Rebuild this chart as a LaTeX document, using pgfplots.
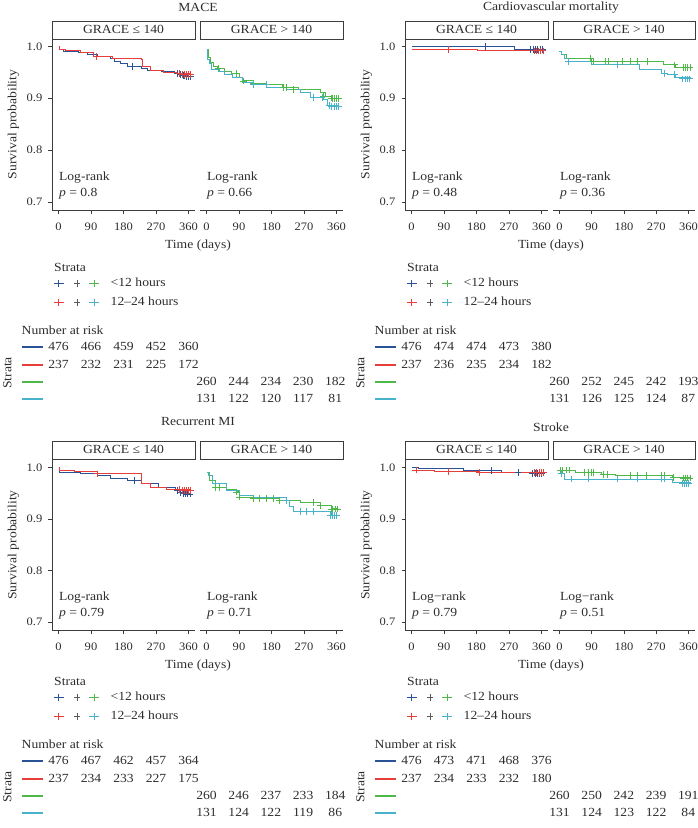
\documentclass[border=0pt]{standalone}
\usepackage{fontspec}
\setmainfont{Liberation Serif}[FakeStretch=1.1]
\usepackage{pgfplots}
\pgfplotsset{compat=1.18}
\definecolor{kmblue}{RGB}{42,82,150}
\definecolor{kmred}{RGB}{232,62,58}
\definecolor{kmgreen}{RGB}{78,184,72}
\definecolor{kmcyan}{RGB}{72,178,204}
\definecolor{txtgray}{RGB}{45,45,45}
\definecolor{axgray}{RGB}{60,60,60}
\newcommand\fs{\fontsize{12.4}{14}\selectfont}
\newcommand\fst{\fontsize{11.4}{13}\selectfont}
\pgfplotsset{
 km/.style={scale only axis, width=143pt, height=171pt, anchor=north west,
  xmin=-18, xmax=378, ymin=0.685, ymax=1.015, clip=false,
  xtick={0,90,180,270,360}, ytick={0.7,0.8,0.9,1.0},
  tick align=outside, major tick length=3.5pt,
  tick style={axgray, line width=0.7pt},
  axis line style={-, axgray, line width=0.7pt},
  axis x line*=bottom,
  /pgf/number format/assume math mode=true,
  tick label style={font=\fst, text=txtgray, inner sep=0pt, text height=0.68em, text depth=0pt},
  xticklabel style={yshift=-9.5pt},
  yticklabel style={xshift=-6pt},
  yticklabel={\pgfmathprintnumber[fixed,fixed zerofill,precision=1]{\tick}},
  every axis plot/.append style={const plot, line width=1pt},
 },
 kmL/.style={km, axis y line*=left},
 kmR/.style={km, axis y line=none, ymajorticks=false},
 cens/.style={only marks, mark=+, mark size=3.4pt, mark options={line width=0.85pt}},
}
\newcommand\strip[4]{%
 \draw[axgray, line width=0.7pt, fill=white] (#1,-#2) rectangle (#3,-#2-18);
 \node[txt] at ({(#1+#3)/2}, -#2-9) {#4};}
\newcommand\pluskey[4]{% color, x, y, with line?
 \draw[#1, line width=1pt] (#2,#3-3.5) -- (#2,#3+3.5);
 \ifx#4y\draw[#1, line width=1pt] (#2-5,#3) -- (#2+5,#3);\else\draw[#1, line width=1pt] (#2-3,#3) -- (#2+3,#3);\fi}
\newcommand\riskblock[6]{%
 \node[txt, anchor=west] at (#1+54, -#2-268) {Strata};
 \pluskey{kmblue}{#1+58.7}{-#2-283.5}{y}
 \pluskey{black!65}{#1+77}{-#2-283.5}{n}
 \pluskey{kmgreen}{#1+94}{-#2-283.5}{y}
 \node[txt, anchor=west] at (#1+110.5, -#2-283.5) {<12 hours};
 \pluskey{kmred}{#1+58.7}{-#2-302}{y}
 \pluskey{black!65}{#1+77}{-#2-302}{n}
 \pluskey{kmcyan}{#1+94}{-#2-302}{y}
 \node[txt, anchor=west] at (#1+110.5, -#2-302) {12–24 hours};
 \node[txt, anchor=west] at (#1+21.5, -#2-331) {Number at risk};
 \node[txt, rotate=90] at (#1+8, -#2-373) {Strata};
 \draw[kmblue, line width=1.2pt] (#1+22,-#2-347) -- ++(21,0);
 \draw[kmred, line width=1.2pt] (#1+22,-#2-365) -- ++(21,0);
 \draw[kmgreen, line width=1.2pt] (#1+22,-#2-382) -- ++(21,0);
 \draw[kmcyan, line width=1.2pt] (#1+22,-#2-399) -- ++(21,0);
 \foreach \v [count=\i from 0] in {#3} \node[txt] at (#1+58.5+\i*32.5, -#2-347) {\v};
 \foreach \v [count=\i from 0] in {#4} \node[txt] at (#1+58.5+\i*32.5, -#2-365) {\v};
 \foreach \v [count=\i from 0] in {#5} \node[txt] at (#1+206.5+\i*32.2, -#2-382) {\v};
 \foreach \v [count=\i from 0] in {#6} \node[txt] at (#1+206.5+\i*32.2, -#2-399) {\v};
}
\begin{document}
\begin{tikzpicture}[x=1pt,y=1pt, txt/.style={inner sep=0pt, text height=0.68em, text depth=0pt, font=\fs, text=txtgray}]
\useasboundingbox (0,0) rectangle (698,-828);

% ===================== MACE =====================
\begin{axis}[kmL, at={(52pt,-39pt)}]
\addplot[kmblue] coordinates {(0,1.0)(3,0.994)(14,0.991)(55,0.988)(80,0.985)(108,0.981)(145,0.977)(155,0.972)(173,0.968)(190,0.962)(229,0.958)(247,0.955)(285,0.952)(320,0.949)(340,0.946)(355,0.943)(365,0.942)};
\addplot[kmred] coordinates {(0,1.0)(4,0.995)(18,0.992)(60,0.989)(98,0.981)(150,0.978)(229,0.975)(232,0.961)(255,0.955)(290,0.951)(330,0.948)(365,0.946)};
\addplot[cens, kmblue] coordinates {(205,0.962)(330,0.949)(338,0.946)(345,0.944)(350,0.944)(355,0.943)(360,0.943)(365,0.942)};
\addplot[cens, kmred] coordinates {(106,0.981)(335,0.948)(342,0.947)(348,0.946)(354,0.946)(360,0.946)(365,0.946)};
\node[txt, anchor=west] at (axis cs:1,0.7487) {Log-rank};
\node[txt, anchor=west] at (axis cs:1,0.7178) {\textit{p} = 0.8};
\end{axis}
\begin{axis}[kmR, at={(200pt,-39pt)}]
\addplot[kmgreen] coordinates {(0,0.994)(5,0.98)(10,0.97)(18,0.962)(30,0.958)(50,0.953)(70,0.948)(90,0.94)(100,0.934)(130,0.93)(165,0.927)(210,0.922)(255,0.917)(315,0.911)(330,0.905)(350,0.901)(365,0.900)};
\addplot[kmcyan] coordinates {(0,0.994)(4,0.975)(8,0.968)(15,0.956)(36,0.952)(50,0.946)(73,0.940)(101,0.931)(129,0.927)(167,0.922)(222,0.917)(260,0.911)(287,0.902)(324,0.898)(334,0.886)(365,0.885)};
\addplot[cens, kmgreen] coordinates {(32,0.958)(83,0.948)(102,0.934)(130,0.930)(213,0.922)(222,0.922)(241,0.917)(324,0.905)(345,0.901)(350,0.900)(355,0.900)(360,0.900)(365,0.900)};
\addplot[cens, kmcyan] coordinates {(130,0.927)(166,0.927)(297,0.902)(320,0.902)(340,0.886)(347,0.885)(353,0.885)(359,0.885)(365,0.885)};
\node[txt, anchor=west] at (axis cs:1,0.7487) {Log-rank};
\node[txt, anchor=west] at (axis cs:1,0.7178) {\textit{p} = 0.66};
\end{axis}

% ===================== Cardiovascular mortality =====================
\begin{axis}[kmL, at={(405pt,-39pt)}]
\addplot[kmblue] coordinates {(0,1.0)(285,0.9955)(365,0.9955)};
\addplot[kmred] coordinates {(0,0.9955)(182,0.992)(365,0.992)};
\addplot[cens, kmblue] coordinates {(206,1.0)(330,0.9955)(337,0.9955)(344,0.9955)(350,0.9955)(356,0.9955)(362,0.9955)};
\addplot[cens, kmred] coordinates {(103,0.9955)(340,0.992)(346,0.992)(352,0.992)(358,0.992)(364,0.992)};
\node[txt, anchor=west] at (axis cs:1,0.7487) {Log-rank};
\node[txt, anchor=west] at (axis cs:1,0.7178) {\textit{p} = 0.48};
\end{axis}
\begin{axis}[kmR, at={(553pt,-39pt)}, width=142pt]
\addplot[kmgreen] coordinates {(0,0.991)(5,0.985)(20,0.978)(90,0.972)(289,0.965)(323,0.960)(365,0.960)};
\addplot[kmcyan] coordinates {(0,0.991)(5,0.985)(15,0.978)(24,0.972)(90,0.965)(223,0.956)(284,0.949)(300,0.946)(324,0.940)(365,0.938)};
\addplot[cens, kmgreen] coordinates {(85,0.978)(94,0.972)(128,0.972)(137,0.972)(175,0.972)(199,0.972)(218,0.972)(246,0.972)(322,0.965)(346,0.96)(352,0.96)(358,0.96)(364,0.96)};
\addplot[cens, kmcyan] coordinates {(24,0.972)(161,0.965)(294,0.949)(322,0.946)(344,0.938)(350,0.938)(356,0.938)(362,0.938)};
\node[txt, anchor=west] at (axis cs:1,0.7487) {Log-rank};
\node[txt, anchor=west] at (axis cs:1,0.7178) {\textit{p} = 0.36};
\end{axis}

% ===================== Recurrent MI =====================
\begin{axis}[kmL, at={(52pt,-460pt)}, height=170pt]
\addplot[kmblue] coordinates {(0,1.0)(3,0.991)(60,0.989)(108,0.985)(145,0.980)(192,0.975)(230,0.970)(277,0.961)(323,0.956)(355,0.950)(365,0.949)};
\addplot[kmred] coordinates {(0,1.0)(3,0.9955)(43,0.993)(108,0.988)(229,0.969)(255,0.962)(300,0.957)(365,0.956)};
\addplot[cens, kmblue] coordinates {(210,0.975)(330,0.956)(338,0.952)(345,0.95)(352,0.95)(358,0.949)(364,0.949)};
\addplot[cens, kmred] coordinates {(108,0.988)(335,0.957)(342,0.956)(348,0.956)(354,0.956)(360,0.956)(366,0.956)};
\node[txt, anchor=west] at (axis cs:1,0.7497) {Log-rank};
\node[txt, anchor=west] at (axis cs:1,0.7186) {\textit{p} = 0.79};
\end{axis}
\begin{axis}[kmR, at={(200pt,-460pt)}, height=170pt]
\addplot[kmgreen] coordinates {(0,0.991)(7,0.975)(26,0.961)(55,0.957)(82,0.953)(91,0.943)(129,0.940)(203,0.937)(259,0.932)(315,0.927)(345,0.920)(365,0.920)};
\addplot[kmcyan] coordinates {(0,0.991)(5,0.985)(17,0.969)(54,0.956)(91,0.946)(129,0.942)(222,0.937)(231,0.925)(240,0.915)(335,0.915)(345,0.907)(365,0.907)};
\addplot[cens, kmgreen] coordinates {(26,0.961)(35,0.961)(82,0.953)(91,0.943)(129,0.94)(147,0.94)(166,0.94)(185,0.94)(203,0.937)(296,0.932)(315,0.927)(345,0.92)(350,0.92)(356,0.92)(362,0.92)};
\addplot[cens, kmcyan] coordinates {(222,0.937)(259,0.915)(278,0.915)(296,0.915)(342,0.907)(348,0.907)(354,0.907)(360,0.907)};
\node[txt, anchor=west] at (axis cs:1,0.7497) {Log-rank};
\node[txt, anchor=west] at (axis cs:1,0.7186) {\textit{p} = 0.71};
\end{axis}

% ===================== Stroke =====================
\begin{axis}[kmL, at={(405pt,-460pt)}, height=170pt]
\addplot[kmblue] coordinates {(0,1.0)(20,0.998)(145,0.994)(250,0.991)(340,0.989)(365,0.989)};
\addplot[kmred] coordinates {(0,0.9955)(65,0.9925)(187,0.991)(330,0.990)(365,0.990)};
\addplot[cens, kmblue] coordinates {(220,0.994)(295,0.991)(335,0.989)(342,0.989)(348,0.989)(354,0.989)(360,0.989)};
\addplot[cens, kmred] coordinates {(14,0.9955)(103,0.9925)(187,0.991)(340,0.99)(347,0.99)(353,0.99)(359,0.99)(365,0.99)};
\node[txt, anchor=west] at (axis cs:1,0.7497) {Log−rank};
\node[txt, anchor=west] at (axis cs:1,0.7186) {\textit{p} = 0.79};
\end{axis}
\begin{axis}[kmR, at={(553pt,-460pt)}, height=170pt, width=142pt]
\addplot[kmgreen] coordinates {(0,0.9955)(44,0.991)(118,0.9866)(156,0.985)(314,0.981)(365,0.980)};
\addplot[kmcyan] coordinates {(0,0.988)(15,0.978)(314,0.972)(365,0.970)};
\addplot[cens, kmgreen] coordinates {(2,0.9955)(9,0.9955)(19,0.9955)(28,0.9955)(71,0.991)(80,0.991)(90,0.991)(95,0.991)(123,0.9866)(133,0.9866)(199,0.985)(218,0.985)(242,0.985)(284,0.985)(294,0.985)(317,0.981)(345,0.98)(352,0.98)(358,0.98)(364,0.98)};
\addplot[cens, kmcyan] coordinates {(5,0.988)(33,0.978)(80,0.978)(161,0.978)(218,0.978)(284,0.978)(294,0.978)(342,0.97)(348,0.97)(354,0.97)(360,0.97)};
\node[txt, anchor=west] at (axis cs:1,0.7497) {Log−rank};
\node[txt, anchor=west] at (axis cs:1,0.7186) {\textit{p} = 0.51};
\end{axis}

% ----- strips, titles, labels -----
\strip{52}{21}{195}{GRACE ≤ 140}
\strip{200}{21}{343}{GRACE > 140}
\strip{405}{21}{548}{GRACE ≤ 140}
\strip{553}{21}{695}{GRACE > 140}
\strip{52}{441}{195}{GRACE ≤ 140}
\strip{200}{441}{343}{GRACE > 140}
\strip{405}{441}{548}{GRACE ≤ 140}
\strip{553}{441}{695}{GRACE > 140}

\node[txt] at (198,-8.5) {MACE};
\node[txt] at (551,-7) {Cardiovascular mortality};
\node[txt] at (198,-422.5) {Recurrent MI};
\node[txt] at (551,-428) {Stroke};

\node[txt, rotate=90] at (13,-124.5) {Survival probability};
\node[txt, rotate=90] at (366,-124.5) {Survival probability};
\node[txt, rotate=90] at (13,-545) {Survival probability};
\node[txt, rotate=90] at (366,-545) {Survival probability};

\node[txt] at (198,-245.5) {Time (days)};
\node[txt] at (551,-245.5) {Time (days)};
\node[txt] at (198,-665) {Time (days)};
\node[txt] at (551,-665) {Time (days)};

\riskblock{0}{0}{476,466,459,452,360}{237,232,231,225,172}{260,244,234,230,182}{131,122,120,117,81}
\riskblock{353}{0}{476,474,474,473,380}{237,236,235,234,182}{260,252,245,242,193}{131,126,125,124,87}
\riskblock{0}{414}{476,467,462,457,364}{237,234,233,227,175}{260,246,237,233,184}{131,124,122,119,86}
\riskblock{353}{414}{476,473,471,468,376}{237,234,233,232,180}{260,250,242,239,191}{131,124,123,122,84}
\end{tikzpicture}
\end{document}
